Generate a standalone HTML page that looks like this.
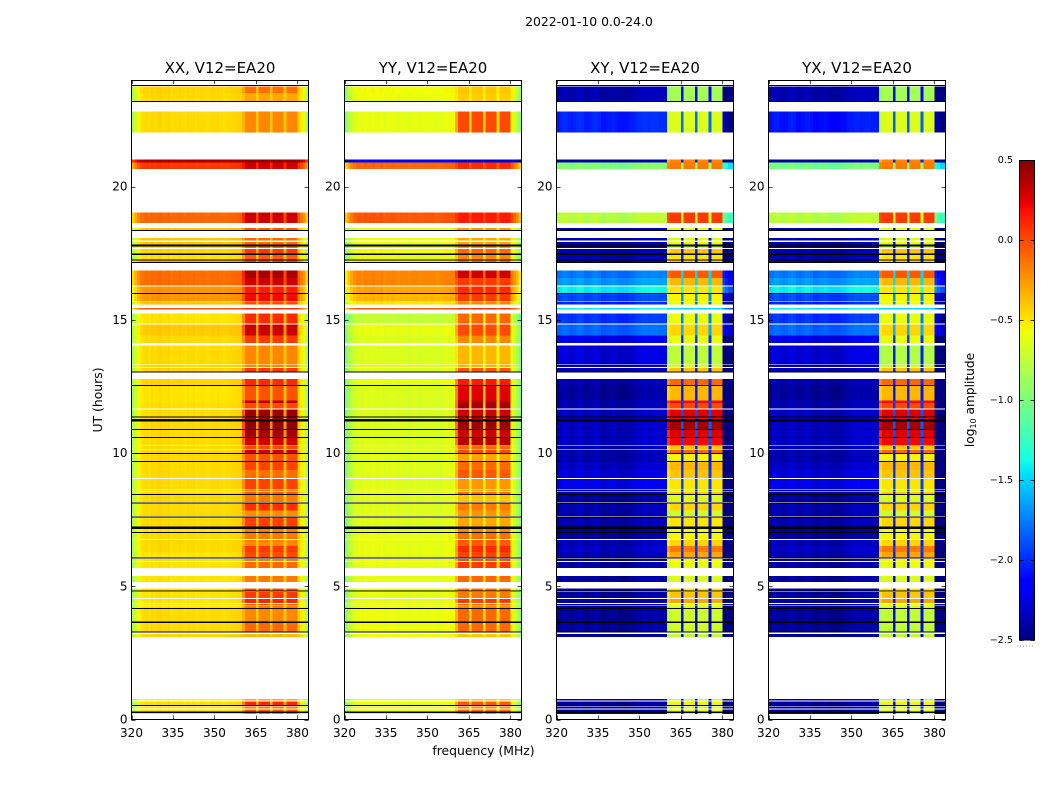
<!DOCTYPE html>
<html>
<head>
<meta charset="utf-8">
<title>2022-01-10 0.0-24.0</title>
<style>
html,body{margin:0;padding:0;background:#fff;}
svg{display:block;}
text{font-family:"DejaVu Sans","Liberation Sans",sans-serif;fill:#000;}
</style>
</head>
<body>
<svg id="chart" xmlns="http://www.w3.org/2000/svg" width="1050" height="800" viewBox="0 0 1050 800">
<rect x="0" y="0" width="1050" height="800" fill="#fff"/>
<text x="589" y="26" font-size="12.4" text-anchor="middle">2022-01-10 0.0-24.0</text>
<text x="483.5" y="755" font-size="12.4" text-anchor="middle">frequency (MHz)</text>
<text transform="translate(102,400) rotate(-90)" font-size="12.4" text-anchor="middle">UT (hours)</text>
<text transform="translate(974,400) rotate(-90)" font-size="12.2" text-anchor="middle">log<tspan font-size="8" dy="2">10</tspan><tspan dy="-2"> amplitude</tspan></text>
</svg>
<script>
const panelTitles = ['XX, V12=EA20','YY, V12=EA20','XY, V12=EA20','YX, V12=EA20'];
const freqTicks = [320,335,350,365,380];
const utTicks = [0,5,10,15,20];
const colorTicks = [0.5,0,-0.5,-1,-1.5,-2,-2.5];

const bandStart = [23.76,23.52,22.82,21.01,20.91,19.03,18.44,18.07,17.92,17.76,17.66,17.44,17.23,16.86,16.56,16.25,15.96,15.66,15.44,15.24,14.83,14.42,14.03,13.30,13.20,12.77,12.51,11.98,11.87,11.64,11.33,11.19,10.86,10.56,10.26,10.11,9.96,9.66,9.36,9.02,8.61,8.53,8.42,8.10,7.85,7.58,7.14,6.99,6.73,6.51,6.28,6.02,5.91,5.38,4.92,4.79,4.53,4.34,4.26,4.14,3.62,3.20,0.76,0.68,0.49,0.38,0.25];
const bandEnd = [23.52,23.19,22.03,20.91,20.66,18.63,18.36,17.98,17.81,17.69,17.46,17.25,17.16,16.56,16.28,15.98,15.69,15.58,15.39,14.87,14.42,14.13,13.33,13.22,13.06,12.54,11.98,11.87,11.68,11.36,11.27,10.89,10.59,10.28,10.13,9.99,9.69,9.36,9.06,8.64,8.56,8.46,8.16,7.85,7.63,7.23,7.03,6.77,6.51,6.28,6.06,5.94,5.69,5.16,4.82,4.56,4.37,4.28,4.16,3.66,3.28,3.09,0.72,0.53,0.41,0.30,0.23];

const xxLow = [-.45,-.47,-.47,.38,.05,-.1,-.4,-.4,-.4,-.5,-.45,-.5,-.3,-.12,-.12,-.25,-.25,-.4,-.05,-.5,-.42,-.47,-.47,-.47,-.45,-.45,-.5,-.5,-.48,-.48,-.48,-.47,-.47,-.47,-.47,-.47,-.47,-.47,-.47,-.47,-.47,-.47,-.47,-.47,-.47,-.47,-.5,-.47,-.47,-.47,-.5,-.5,-.5,-.5,-.5,-.5,-.5,-.5,-.5,-.47,-.47,-.45,-.55,-.48,-.5,-.5,-.5];
const xxHigh = [-.12,-.3,-.2,.45,.3,.3,-.05,-.1,-.1,-.1,.05,-.05,.05,.4,.3,.15,.2,0,.1,.1,.3,.05,-.2,-.2,.05,.1,-.03,.35,0,.42,.35,.45,.4,.28,0,.3,-.03,.02,-.12,.02,-.15,-.05,-.15,.08,-.22,.03,-.15,-.15,-.2,.05,0,-.15,-.1,-.15,0,.05,.12,-.05,-.15,-.2,-.1,-.35,-.3,.12,-.15,-.05,-.15];
const yyLow = [-.58,-.6,-.62,-2.2,-.1,-.05,-.6,-.6,-.6,-.6,-.58,-.62,-.5,-.2,-.2,-.3,-.35,-.5,-.05,-.75,-.62,-.66,-.66,-.66,-.65,-.62,-.66,-.66,-.66,-.66,-.66,-.66,-.66,-.66,-.66,-.66,-.65,-.65,-.65,-.65,-.65,-.65,-.65,-.65,-.65,-.65,-.66,-.62,-.62,-.62,-.62,-.62,-.62,-.62,-.62,-.62,-.62,-.62,-.62,-.6,-.6,-.6,-.6,-.6,-.6,-.6,-.6];
const yyHigh = [-.4,-.42,0,-2.3,.1,.15,-.25,-.3,-.3,-.25,-.1,-.2,-.1,.3,.05,.1,.05,-.2,.1,-.1,0,-.2,-.35,-.35,-.05,.15,.25,.35,.4,.3,.3,.42,.3,.35,-.1,0,-.3,-.1,-.05,-.25,-.3,-.1,-.4,-.15,-.25,-.3,-.2,-.12,-.05,.1,.02,-.02,.05,-.1,-.1,-.15,.05,-.1,-.2,-.1,-.1,-.4,-.4,-.05,-.2,-.1,-.2];
const xyLow = [-2.45,-2.45,-2.1,-2.5,-1.05,-.85,-2.45,-2.45,-2.45,-2.5,-2.45,-2.45,-2.45,-1.85,-1.75,-1.5,-2,-2.1,-1.5,-2.05,-1.9,-2.3,-2.35,-2.45,-2.45,-2.45,-2.5,-2.45,-2.45,-2.4,-2.4,-2.4,-2.4,-2.4,-2.45,-2.45,-2.45,-2.4,-2.35,-2.3,-2.45,-2.45,-2.5,-2.45,-2.45,-2.45,-2.5,-2.5,-2.45,-2.4,-2.45,-2.5,-2.5,-2.5,-2.5,-2.5,-2.5,-2.5,-2.5,-2.5,-2.5,-2.5,-2.5,-2.5,-2.5,-2.5,-2.5];
const xyHigh = [-.85,-.85,-.65,-.2,-.15,.05,-.6,-.65,-.6,-.7,-.4,-.5,-.4,-.05,-.35,-.5,-.55,-.6,-1.5,-.6,-.45,-.6,-.75,-.7,-.4,-.1,-.35,.2,0,.25,.2,.4,.25,.2,-.4,-.1,-.55,-.35,-.4,-.5,-.7,-.4,-.65,-.45,-.7,-.5,-.6,-.55,-.45,-.15,-.3,-.6,-.6,-.65,-.5,-.4,-.3,-.6,-.7,-.7,-.7,-.75,-.8,-.55,-.7,-.6,-.7];
const yxLow = [-2.45,-2.45,-2.15,-2.5,-1.1,-.85,-2.45,-2.45,-2.45,-2.5,-2.45,-2.45,-2.45,-1.85,-1.75,-1.5,-2,-2.1,-1.5,-2.05,-1.9,-2.3,-2.35,-2.45,-2.45,-2.45,-2.5,-2.45,-2.45,-2.4,-2.4,-2.4,-2.4,-2.4,-2.45,-2.45,-2.45,-2.4,-2.35,-2.3,-2.45,-2.45,-2.5,-2.45,-2.45,-2.45,-2.5,-2.5,-2.45,-2.4,-2.45,-2.5,-2.5,-2.5,-2.5,-2.5,-2.5,-2.5,-2.5,-2.5,-2.5,-2.5,-2.5,-2.5,-2.5,-2.5,-2.5];
const yxHigh = [-.85,-.85,-.65,-.2,-.15,.05,-.6,-.65,-.6,-.7,-.4,-.5,-.4,-.05,-.35,-.5,-.55,-.6,-1.5,-.6,-.45,-.6,-.8,-.7,-.4,-.1,-.35,.2,0,.25,.2,.4,.25,.2,-.4,-.1,-.55,-.35,-.4,-.5,-.7,-.4,-.65,-.45,-.7,-.45,-.6,-.55,-.45,-.15,-.3,-.6,-.6,-.65,-.5,-.4,-.3,-.6,-.7,-.75,-.75,-.75,-.8,-.55,-.7,-.6,-.7];

const parallelProfile = [-.35,-.2,-.1,-.03,0,.02,-.01,.03,0,.02,.03,0,.01,.03,-.01,.01,0,.02,0,-.01,.01,0,.01,-.01,0,.01,0,-.01,0,.01,0,.01,0,-.01,0,.01,.02,.02,.03,.03,0,0,0,0,0,0,0,0,0,0,0,0,0,0,0,0,0,0,0,0,.05,-.05,-.15,-.32];
const crossProfile = [.05,.07,.1,.1,.07,.05,.07,.1,.12,.1,.05,.05,.07,.1,.1,.07,.02,.02,.05,.05,.07,.05,.02,.02,.02,.02,.05,.05,.07,.1,.1,.12,.12,.1,.12,.12,.12,.1,.1,.1,0,0,0,0,0,0,0,0,0,0,0,0,0,0,0,0,0,0,0,0,-.2,-.3,-.4,-.4];
const parallelWeight = [0,0,0,0,0,0,0,0,0,0,0,0,0,0,0,0,0,0,0,0,0,0,0,0,0,0,0,0,0,0,0,0,0,0,0,0,0,0,0,0,.5,1,1,1,1,.25,1,1,1,1,.25,1,1,1,1,.25,1,1,1,1,0,0,0,0];
const crossWeight = [0,0,0,0,0,0,0,0,0,0,0,0,0,0,0,0,0,0,0,0,0,0,0,0,0,0,0,0,0,0,0,0,0,0,0,0,0,0,0,0,.95,1,1,1,1,.2,1,1,1,1,.2,1,1,1,1,.2,1,1,1,1,0,0,0,0];

const flagStart = [23.81,23.21,18.37,17.82,17.48,17.27,17.17,16.00,13.06,12.55,11.38,11.28,10.90,10.60,10.00,9.70,8.47,8.15,7.62,7.25,7.04,6.08,4.84,4.18,3.67,3.30,0.54,0.30];
const flagEnd = [23.77,23.17,18.33,17.75,17.44,17.23,17.13,15.96,13.02,12.51,11.34,11.19,10.86,10.56,9.96,9.66,8.43,8.11,7.58,7.15,7.00,6.04,4.80,4.14,3.63,3.26,0.50,0.24];

const SVG_NS = 'http://www.w3.org/2000/svg';
const chart = document.getElementById('chart');
const PLOT_TOP = 80;
const PLOT_H = 639.5;
const PLOT_W = 177;
const panelLefts = [131.5,344.5,556.5,768.5];
const lowSeries = [xxLow,yyLow,xyLow,yxLow];
const highSeries = [xxHigh,yyHigh,xyHigh,yxHigh];
const profiles = [parallelProfile,parallelProfile,crossProfile,crossProfile];
const weights = [parallelWeight,parallelWeight,crossWeight,crossWeight];

function xScale(panel, f){ return panelLefts[panel] + (f - 320) * PLOT_W / 64; }
function yScale(ut){ return PLOT_TOP + PLOT_H - ut * PLOT_H / 24; }
function cScale(v){ return 160 + (0.5 - v) * 160; }

function jet(v){
  let t = (v + 2.5) / 3;
  t = Math.max(0, Math.min(1, t));
  const ramp = (a, b) => Math.max(0, Math.min(1, (t - a) / (b - a)));
  const r = t < .89 ? ramp(.35, .66) : 1 - .5 * ramp(.89, 1);
  const g = t < .64 ? ramp(.125, .375) : 1 - ramp(.64, .91);
  const b = t < .11 ? .5 + .5 * ramp(0, .11) : 1 - ramp(.34, .65);
  return 'rgb(' + Math.round(r * 255) + ',' + Math.round(g * 255) + ',' + Math.round(b * 255) + ')';
}
function make(tag, parent){
  const el = document.createElementNS(SVG_NS, tag);
  parent.appendChild(el);
  return el;
}
function fmt(v){
  return (v < 0 ? '\u2212' : '') + Math.abs(v).toFixed(1);
}

panelTitles.forEach(function(title, p){
  const g = make('g', chart);
  
  
  const left = panelLefts[p];

  bandStart.forEach(function(start, b){
    const y0 = yScale(start);
    const y1 = yScale(bandEnd[b]);
    for (let ch = 0; ch < 64; ch++) {
      const low = lowSeries[p][b] + profiles[p][ch];
      const value = low + weights[p][ch] * (highSeries[p][b] - lowSeries[p][b]);
      const x0 = xScale(p, 320 + ch);
      const x1 = xScale(p, 321 + ch);
      const cell = make('rect', g);
      
      
      cell.setAttribute('x', x0);
      cell.setAttribute('y', y0);
      cell.setAttribute('width', x1 - x0);
      cell.setAttribute('height', Math.max(1, y1 - y0));
      cell.setAttribute('fill', jet(value));
      cell.setAttribute('shape-rendering', 'crispEdges');
    }
  });

  flagStart.forEach(function(ut, i){
    const line = make('rect', g);
    
    
    line.setAttribute('x', left);
    line.setAttribute('y', yScale(ut));
    line.setAttribute('width', PLOT_W);
    line.setAttribute('height', Math.max(1, yScale(flagEnd[i]) - yScale(ut)));
    line.setAttribute('fill', '#000');
    line.setAttribute('shape-rendering', 'crispEdges');
  });

  freqTicks.forEach(function(f){
    const x = Math.round(xScale(p, f)) + 0.5;
    [[PLOT_TOP, PLOT_TOP + 4], [PLOT_TOP + PLOT_H, PLOT_TOP + PLOT_H - 4]].forEach(function(pair){
      const tick = make('line', g);
      
      
      tick.setAttribute('x1', x);
      tick.setAttribute('x2', x);
      tick.setAttribute('y1', pair[0]);
      tick.setAttribute('y2', pair[1]);
      tick.setAttribute('stroke', '#000');
      tick.setAttribute('stroke-width', '0.7');
    });
    const label = make('text', g);
    
    
    label.setAttribute('x', xScale(p, f));
    label.setAttribute('y', 737);
    label.setAttribute('font-size', '12');
    label.setAttribute('text-anchor', 'middle');
    label.textContent = f;
  });

  utTicks.forEach(function(ut){
    const y = Math.round(yScale(ut)) + 0.5;
    [[left, left + 4], [left + PLOT_W, left + PLOT_W - 4]].forEach(function(pair){
      const tick = make('line', g);
      
      
      tick.setAttribute('x1', pair[0]);
      tick.setAttribute('x2', pair[1]);
      tick.setAttribute('y1', y);
      tick.setAttribute('y2', y);
      tick.setAttribute('stroke', '#000');
      tick.setAttribute('stroke-width', '0.7');
    });
    const label = make('text', g);
    
    
    label.setAttribute('x', left - 4);
    label.setAttribute('y', yScale(ut) + 4);
    label.setAttribute('font-size', '12');
    label.setAttribute('text-anchor', 'end');
    label.textContent = ut;
  });

  const frame = make('rect', g);
  
  
  frame.setAttribute('x', left);
  frame.setAttribute('y', PLOT_TOP + 0.5);
  frame.setAttribute('width', PLOT_W);
  frame.setAttribute('height', PLOT_H - 0.5);
  frame.setAttribute('fill', 'none');
  frame.setAttribute('stroke', '#000');
  frame.setAttribute('stroke-width', '1');

  const head = make('text', g);
  
  
  head.setAttribute('x', left + PLOT_W / 2);
  head.setAttribute('y', 73);
  head.setAttribute('font-size', '15');
  head.setAttribute('text-anchor', 'middle');
  head.textContent = title;
});

const bar = make('g', chart);


for (let py = 160; py < 640; py += 2) {
  const step = make('rect', bar);
  
  
  step.setAttribute('x', 1019.5);
  step.setAttribute('y', py);
  step.setAttribute('width', 15);
  step.setAttribute('height', 2);
  step.setAttribute('fill', jet(0.5 - (py + 1 - 160) / 160));
  step.setAttribute('shape-rendering', 'crispEdges');
}
colorTicks.forEach(function(v){
  const y = Math.round(cScale(v)) + 0.5;
  const tick = make('line', bar);
  
  
  tick.setAttribute('x1', 1019.5);
  tick.setAttribute('x2', 1034.5);
  tick.setAttribute('y1', y);
  tick.setAttribute('y2', y);
  tick.setAttribute('stroke', '#000');
  tick.setAttribute('stroke-width', '0.7');
  tick.setAttribute('stroke-dasharray', '4 7 4');
  const label = make('text', bar);
  
  
  label.setAttribute('x', 1013);
  label.setAttribute('y', cScale(v) + 3);
  label.setAttribute('font-size', '9.6');
  label.setAttribute('text-anchor', 'end');
  label.textContent = fmt(v);
});
const barFrame = make('rect', bar);


barFrame.setAttribute('x', 1019.5);
barFrame.setAttribute('y', 160.5);
barFrame.setAttribute('width', 15);
barFrame.setAttribute('height', 479.5);
barFrame.setAttribute('fill', 'none');
barFrame.setAttribute('stroke', '#000');
barFrame.setAttribute('stroke-width', '1');
const dots = make('line', bar);


dots.setAttribute('x1', 1017);
dots.setAttribute('x2', 1035);
dots.setAttribute('y1', 646);
dots.setAttribute('y2', 646);
dots.setAttribute('stroke', '#999');
dots.setAttribute('stroke-width', '1');
dots.setAttribute('stroke-dasharray', '1 2');
</script>
</body>
</html>
